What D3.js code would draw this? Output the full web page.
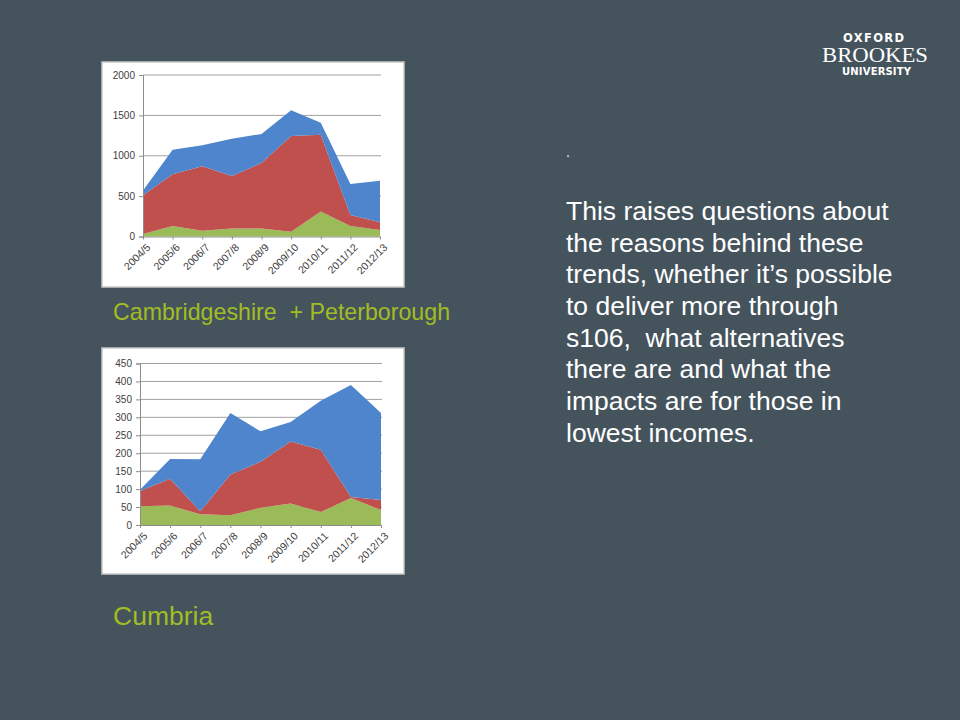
<!DOCTYPE html>
<html><head><meta charset="utf-8">
<script src="https://cdn.jsdelivr.net/npm/d3@7"></script>
<style>
html,body{margin:0;padding:0;background:#45535d;}
svg{display:block;}
text{white-space:pre;}
</style></head>
<body>
<svg id="slide" width="960" height="720"></svg>
<script>
// ---- Data ----
const years = ["2004/5","2005/6","2006/7","2007/8","2008/9","2009/10","2010/11","2011/12","2012/13"];
// Cambridgeshire + Peterborough (stacked: green bottom, red middle, blue top)
const cambGreen = [30,130,70,100,100,60,310,130,80];
const cambRed   = [480,640,800,650,810,1185,950,135,95];
const cambBlue  = [60,305,260,460,360,320,150,385,515];
const cambTicks = [0,500,1000,1500,2000];
// Cumbria
const cumbGreen = [52,54,30,27,48,60,36,75,42];
const cumbRed   = [43,75,8,114,128,173,174,3,28];
const cumbBlue  = [3,55,145,171,85,54,136,312,242];
const cumbTicks = [0,50,100,150,200,250,300,350,400,450];

const bodyLines = ["This raises questions about","the reasons behind these","trends, whether it\u2019s possible","to deliver more through","s106,  what alternatives","there are and what the","impacts are for those in","lowest incomes."];

const colors = {green:"#9bbb59", red:"#c0504d", blue:"#4f85cc"};
const svg = d3.select("#slide");
const FONT = "Liberation Sans, Arial, sans-serif";

function drawChart(cfg){
  const g = svg.append("g");
  g.append("rect").attr("x",cfg.box[0]).attr("y",cfg.box[1]).attr("width",cfg.box[2]).attr("height",cfg.box[3])
    .attr("fill","#ffffff").attr("stroke","#c8c8c8").attr("stroke-width",1.5);
  const x = d3.scalePoint().domain(years).range([cfg.x0,cfg.x1]);
  const y = d3.scaleLinear().domain([0,cfg.max]).range([cfg.y0,cfg.y1]);
  // gridlines
  g.append("g").selectAll("line").data(cfg.ticks.filter(t=>t>0)).join("line")
    .attr("x1",cfg.x0).attr("x2",cfg.x1+1).attr("y1",d=>y(d)).attr("y2",d=>y(d))
    .attr("stroke","#a0a0a0").attr("stroke-width",1);
  const rows = years.map((yr,i)=>({yr, green:cfg.green[i], red:cfg.red[i], blue:cfg.blue[i]}));
  const stack = d3.stack().keys(["green","red","blue"])(rows);
  const area = d3.area().x(d=>x(d.data.yr)).y0(d=>y(d[0])).y1(d=>y(d[1]));
  g.append("g").selectAll("path").data(stack).join("path")
    .attr("d",area).attr("fill",d=>colors[d.key]);
  // y axis
  const ya = g.append("g").attr("transform",`translate(${cfg.x0},0)`)
    .call(d3.axisLeft(y).tickValues(cfg.ticks).tickSize(4).tickPadding(4).tickFormat(d3.format("d")));
  ya.select(".domain").attr("stroke","#8c8c8c");
  ya.selectAll(".tick line").attr("stroke","#8c8c8c");
  ya.selectAll("text").attr("font-family",FONT).attr("font-size",10).attr("fill","#404040");
  // x axis
  const xa = g.append("g").attr("transform",`translate(0,${cfg.y0})`)
    .call(d3.axisBottom(x).tickSize(3).tickSizeOuter(0).tickPadding(2));
  xa.select(".domain").attr("stroke","#8c8c8c");
  xa.selectAll(".tick line").attr("stroke","#8c8c8c");
  xa.selectAll("text").attr("font-family",FONT).attr("font-size",10.5).attr("fill","#404040")
    .attr("text-anchor","end").attr("dy",0).attr("transform","translate(4,8) rotate(-45)");
  // caption
  svg.append("text").attr("x",cfg.cap[0]).attr("y",cfg.cap[1]).text(cfg.caption)
    .attr("font-family",FONT).attr("font-size",cfg.capSize).attr("fill","#a2bd24");
}

drawChart({box:[102,62,302,225], x0:143, x1:380, y0:236.5, y1:75, max:2000, ticks:cambTicks,
  green:cambGreen, red:cambRed, blue:cambBlue, caption:"Cambridgeshire  + Peterborough", cap:[113,320], capSize:23.2});
drawChart({box:[102,348,302,226], x0:140, x1:381, y0:525, y1:363.5, max:450, ticks:cumbTicks,
  green:cumbGreen, red:cumbRed, blue:cumbBlue, caption:"Cumbria", cap:[113,625], capSize:26.5});

// right text
svg.append("text").attr("x",566).attr("y",157).text(".").attr("fill","#fff")
  .attr("font-family",FONT).attr("font-size",14);
svg.append("g").selectAll("text").data(bodyLines).join("text")
  .attr("x",566).attr("y",(d,i)=>220+i*31.65).text(d=>d).attr("fill","#ffffff")
  .attr("font-family",FONT).attr("font-size",26.5);

// logo
const logo = svg.append("g").attr("fill","#ffffff");
logo.append("text").attr("x",843).attr("y",41.5).text("OXFORD")
  .attr("font-family","DejaVu Sans, sans-serif").attr("font-weight","bold").attr("font-size",11.5)
  .attr("textLength",61).attr("lengthAdjust","spacing");
logo.append("text").attr("x",822).attr("y",61.5).text("BROOKES")
  .attr("font-family","Liberation Serif, serif").attr("font-size",20)
  .attr("textLength",106).attr("lengthAdjust","spacingAndGlyphs");
logo.append("text").attr("x",842).attr("y",75).text("UNIVERSITY")
  .attr("font-family","DejaVu Sans, sans-serif").attr("font-weight","bold").attr("font-size",10)
  .attr("textLength",69).attr("lengthAdjust","spacing");
</script>
</body></html>
